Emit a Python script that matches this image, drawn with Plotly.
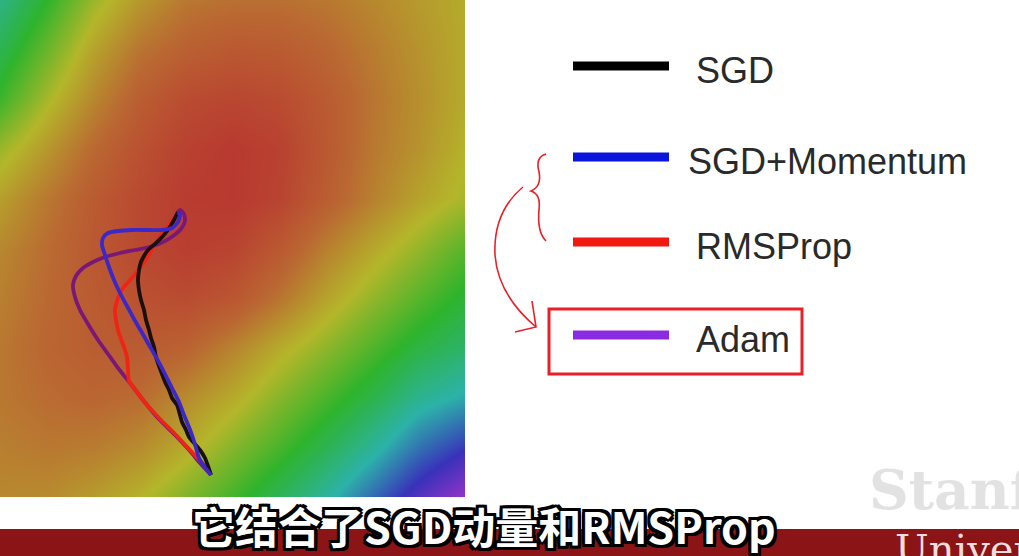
import plotly.graph_objects as go

W, H = 1019, 556

# loss surface levels (0 = red core ... 6 = purple corner)
grid_x = [0, 46.5, 93, 139.5, 186, 232.5, 279, 325.5, 372, 418.5, 465]
grid_y = [0, 49.7, 99.4, 149.1, 198.8, 248.5, 298.2, 347.9, 397.6, 447.3, 497]
levels = [
    [3.7, 3.0, 2.2, 1.6, 1.2, 1.1, 1.1, 1.2, 1.4, 1.65, 1.85],
    [3.3, 2.55, 1.75, 1.15, 0.85, 0.7, 0.75, 0.95, 1.25, 1.55, 1.85],
    [2.9, 2.1, 1.4, 0.8, 0.45, 0.35, 0.45, 0.75, 1.15, 1.5, 1.85],
    [2.2, 1.6, 1.0, 0.55, 0.25, 0.1, 0.25, 0.7, 1.2, 1.55, 1.95],
    [1.7, 1.2, 0.75, 0.4, 0.15, 0.1, 0.3, 0.8, 1.3, 1.75, 2.1],
    [1.4, 1.05, 0.7, 0.4, 0.2, 0.3, 0.7, 1.3, 1.8, 2.25, 2.7],
    [1.3, 1.0, 0.75, 0.55, 0.45, 0.65, 1.15, 1.75, 2.25, 2.7, 3.1],
    [1.2, 0.95, 0.8, 0.75, 0.9, 1.35, 1.85, 2.3, 2.75, 3.2, 3.5],
    [1.2, 1.05, 0.95, 1.05, 1.45, 1.85, 2.35, 2.8, 3.25, 3.8, 4.1],
    [1.3, 1.2, 1.25, 1.45, 1.85, 2.35, 2.8, 3.3, 3.85, 4.5, 4.95],
    [1.4, 1.45, 1.65, 1.95, 2.4, 2.85, 3.35, 3.9, 4.55, 5.25, 5.8],
]

# optimiser trajectories (image coords of the surface, y grows downward)
adam_x = [211, 200, 190, 175, 157, 143, 130, 118, 108, 98, 88, 80, 75, 73, 76, 83, 93,
          105, 120, 135, 150, 163, 173, 181, 185, 184, 180, 178]
adam_y = [475, 463, 451, 435, 417, 400, 383, 368, 354, 340, 324, 310, 297, 285, 276, 268, 262,
          257, 253, 250, 247, 242, 236, 229, 221, 214, 210, 212]

rms_x = [211, 203, 190, 175, 160, 147, 137, 129, 128, 127, 124, 121, 118, 116, 115, 118,
         123, 132, 140, 148, 157, 167, 175, 178]
rms_y = [475, 464, 450, 434, 419, 405, 392, 381, 370, 357, 347, 339, 330, 320, 310, 298,
         288, 278, 268, 256, 241, 227, 217, 212]

sgd_x = [211, 208, 205, 200, 194, 189, 186, 182, 180, 177, 172, 169, 165, 162, 159, 156, 154,
         151, 149, 146, 144, 141, 139, 138, 139, 141, 144, 148, 155, 163, 170, 175, 178]
sgd_y = [475, 466, 458, 450, 443, 437, 430, 422, 415, 405, 398, 390, 382, 374, 366, 357, 347,
         338, 330, 320, 310, 300, 290, 280, 270, 262, 256, 250, 244, 236, 227, 218, 212]

mom_x = [211, 204, 199, 196, 193, 189, 184, 179, 172, 165, 157, 149, 141, 134, 127, 120, 114,
         109, 105, 102, 103, 108, 118, 132, 148, 162, 172, 178, 180, 178]
mom_y = [475, 466, 458, 448, 438, 427, 415, 402, 388, 374, 359, 345, 331, 319, 306, 293, 280,
         267, 255, 245, 238, 233, 231, 230, 230, 230, 228, 222, 215, 212]

names = ["SGD", "SGD+Momentum", "RMSProp", "Adam"]
swatch_colors = ["#000000", "#0a14dc", "#f01a10", "#8a2be2"]
path_colors = ["#1a1010", "#3a28c8", "#f02414", "#7a1878"]

fig = go.Figure()

fig.add_trace(go.Heatmap(
    x=grid_x, y=grid_y, z=levels, zmin=0, zmax=6, zsmooth="best",
    colorscale=[[0, "rgb(185,52,48)"], [1 / 6, "rgb(186,104,50)"], [2 / 6, "rgb(180,182,42)"],
                [3 / 6, "rgb(46,180,44)"], [4 / 6, "rgb(44,178,168)"], [5 / 6, "rgb(56,50,186)"],
                [1, "rgb(172,52,205)"]],
    showscale=False, hoverinfo="skip"))

paths = {"Adam": (adam_x, adam_y), "RMSProp": (rms_x, rms_y),
         "SGD": (sgd_x, sgd_y), "SGD+Momentum": (mom_x, mom_y)}
for nm in ["Adam", "RMSProp", "SGD", "SGD+Momentum"]:
    px_, py_ = paths[nm]
    fig.add_trace(go.Scatter(x=px_, y=py_, mode="lines", name=nm, showlegend=False,
                             line=dict(color=path_colors[names.index(nm)], width=3.8,
                                       shape="spline", smoothing=0.6)))

# legend drawn like the slide: long swatches with big labels
sw_y = [66, 157, 242, 335]
lab_x = [694, 686, 694, 694]
for nm, c, yy, lx in zip(names, swatch_colors, sw_y, lab_x):
    fig.add_trace(go.Scatter(x=[573, 669], y=[yy, yy], mode="lines", xaxis="x2", yaxis="y2",
                             line=dict(color=c, width=9), showlegend=False, hoverinfo="skip"))
    fig.add_annotation(x=lx, y=yy + 4, xref="x2", yref="y2", text=nm, showarrow=False,
                       xanchor="left", yanchor="middle",
                       font=dict(family="Liberation Sans, Arial", size=36, color="#2a2a2a"))

ink = "rgb(232,32,40)"
# hand-drawn brace, curved arrow and box around Adam
fig.add_shape(type="path", xref="x2", yref="y2", line=dict(color=ink, width=1.6),
              path="M 546,154 Q 535,157 539,172 Q 542,186 531,191 Q 541,194 539,210 Q 537,232 546,241")
fig.add_shape(type="path", xref="x2", yref="y2", line=dict(color=ink, width=1.6),
              path="M 523,187 Q 493,212 495,255 Q 498,295 536,327")
fig.add_shape(type="path", xref="x2", yref="y2", line=dict(color=ink, width=1.6),
              path="M 532,301 L 536,327 L 515,332")
fig.add_shape(type="rect", xref="x2", yref="y2", x0=549, y0=309, x1=802, y1=374,
              line=dict(color=ink, width=3))

# bottom band of the slide
fig.add_shape(type="rect", xref="x2", yref="y2", x0=0, y0=529, x1=W, y1=H,
              line=dict(width=0), fillcolor="rgb(138,20,22)", layer="below")
fig.add_annotation(x=867, y=489, xref="x2", yref="y2", text="Stanford", showarrow=False,
                   xanchor="left", yanchor="middle",
                   font=dict(family="DejaVu Serif", size=55, color="rgb(226,226,226)", weight="bold"))
fig.add_annotation(x=893, y=524, xref="x2", yref="y2", text="University", showarrow=False,
                   xanchor="left", yanchor="top",
                   font=dict(family="DejaVu Serif", size=40, color="rgb(240,222,222)"))

outline = ("3px 3px 0 #000, -3px -3px 0 #000, 3px -3px 0 #000, -3px 3px 0 #000, "
           "0 3px 0 #000, 0 -3px 0 #000, 3px 0 0 #000, -3px 0 0 #000")
fig.add_annotation(x=484, y=525, xref="x2", yref="y2", text="它结合了SGD动量和RMSProp",
                   showarrow=False, xanchor="center", yanchor="middle",
                   font=dict(family="Noto Sans CJK SC", size=43, color="white", weight="bold",
                             shadow=outline))

fig.update_layout(
    width=W, height=H, margin=dict(l=0, r=0, t=0, b=0),
    paper_bgcolor="white", plot_bgcolor="rgba(0,0,0,0)",
    xaxis=dict(domain=[0, 465 / W], range=[0, 465], visible=False, fixedrange=True),
    yaxis=dict(domain=[1 - 497 / H, 1], range=[497, 0], visible=False, fixedrange=True),
    xaxis2=dict(domain=[0, 1], range=[0, W], visible=False, anchor="y2", fixedrange=True),
    yaxis2=dict(domain=[0, 1], range=[H, 0], visible=False, anchor="x2", fixedrange=True),
)

fig.write_html("out.html", config={"displayModeBar": False},
               post_script="document.body.style.margin='0';")
